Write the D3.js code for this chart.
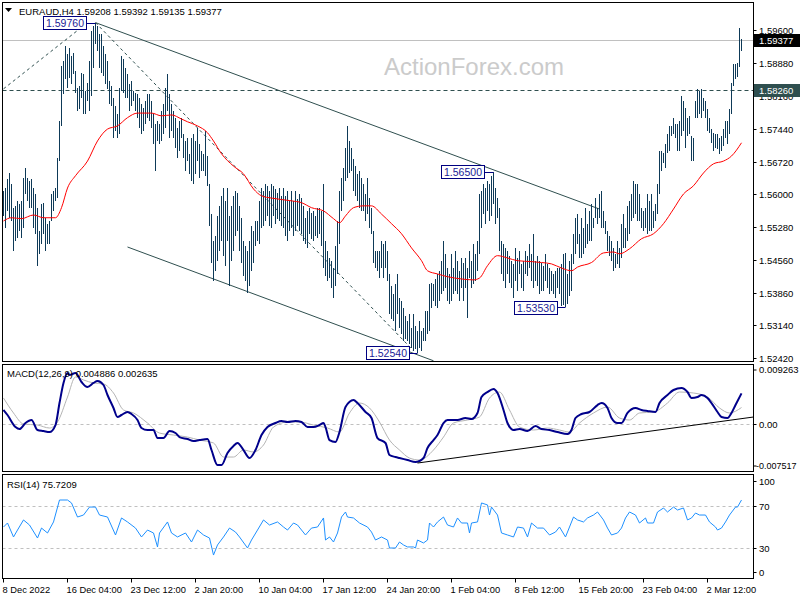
<!DOCTYPE html>
<html><head><meta charset="utf-8">
<script src="https://cdn.jsdelivr.net/npm/d3@7"></script>
<style>body{margin:0;background:#fff} text{font-family:"Liberation Sans",Arial,sans-serif}</style>
</head><body><svg id="c" width="800" height="600"></svg>
<script>
// ---- DATA ----
const symbol = "EURAUD,H4";
const lastOHLC = "1.59208 1.59392 1.59135 1.59377";
const lastPrice = 1.59377;
const levelPrice = 1.5826;
const highs = [
1.5608,1.5614,1.5634,1.5647,1.5623,1.5571,1.5575,1.5586,1.5579,1.5586,
1.5636,1.5658,1.5636,1.5630,1.5634,1.5614,1.5601,1.5571,1.5520,1.5579,
1.5582,1.5549,1.5536,1.5542,1.5601,1.5608,1.5614,1.5680,1.5761,1.5881,
1.5892,1.5925,1.5908,1.5921,1.5903,1.5910,1.5870,1.5833,1.5838,1.5866,
1.5864,1.5827,1.5844,1.5892,1.5958,1.5969,1.5976,1.5969,1.5951,1.5951,
1.5925,1.5908,1.5892,1.5848,1.5838,1.5811,1.5794,1.5776,1.5833,1.5903,
1.5897,1.5877,1.5864,1.5842,1.5848,1.5827,1.5822,1.5820,1.5811,1.5798,
1.5789,1.5805,1.5820,1.5820,1.5805,1.5776,1.5754,1.5761,1.5754,1.5783,
1.5798,1.5833,1.5864,1.5820,1.5798,1.5783,1.5768,1.5746,1.5761,1.5768,
1.5733,1.5717,1.5724,1.5689,1.5724,1.5733,1.5717,1.5746,1.5711,1.5695,
1.5689,1.5739,1.5684,1.5623,1.5557,1.5498,1.5509,1.5553,1.5575,1.5597,
1.5614,1.5586,1.5614,1.5553,1.5575,1.5597,1.5608,1.5603,1.5575,1.5549,
1.5498,1.5487,1.5477,1.5498,1.5531,1.5520,1.5542,1.5542,1.5586,1.5614,
1.5608,1.5623,1.5619,1.5608,1.5623,1.5619,1.5612,1.5603,1.5614,1.5597,
1.5614,1.5597,1.5608,1.5586,1.5608,1.5586,1.5608,1.5590,1.5601,1.5592,
1.5575,1.5549,1.5564,1.5571,1.5560,1.5564,1.5553,1.5571,1.5571,1.5564,
1.5623,1.5498,1.5477,1.5461,1.5455,1.5439,1.5487,1.5542,1.5608,1.5636,
1.5658,1.5702,1.5750,1.5717,1.5702,1.5678,1.5662,1.5645,1.5652,1.5636,
1.5623,1.5601,1.5636,1.5592,1.5571,1.5520,1.5477,1.5477,1.5477,1.5498,
1.5492,1.5498,1.5477,1.5426,1.5400,1.5382,1.5404,1.5426,1.5374,1.5367,
1.5352,1.5334,1.5323,1.5339,1.5308,1.5339,1.5312,1.5301,1.5323,1.5301,
1.5308,1.5345,1.5345,1.5404,1.5407,1.5404,1.5415,1.5426,1.5433,1.5455,
1.5498,1.5470,1.5439,1.5426,1.5470,1.5439,1.5477,1.5455,1.5433,1.5461,
1.5451,1.5461,1.5439,1.5477,1.5455,1.5492,1.5470,1.5498,1.5601,1.5608,
1.5623,1.5614,1.5630,1.5623,1.5641,1.5650,1.5614,1.5592,1.5571,1.5498,
1.5492,1.5483,1.5477,1.5466,1.5455,1.5448,1.5483,1.5461,1.5477,1.5448,
1.5455,1.5477,1.5466,1.5492,1.5470,1.5514,1.5455,1.5466,1.5455,1.5451,
1.5444,1.5470,1.5448,1.5439,1.5433,1.5426,1.5433,1.5439,1.5439,1.5448,
1.5470,1.5472,1.5426,1.5455,1.5470,1.5514,1.5549,1.5557,1.5514,1.5549,
1.5527,1.5571,1.5536,1.5564,1.5579,1.5549,1.5592,1.5571,1.5601,1.5608,
1.5564,1.5542,1.5520,1.5509,1.5498,1.5483,1.5470,1.5498,1.5483,1.5536,
1.5557,1.5527,1.5575,1.5586,1.5601,1.5630,1.5623,1.5623,1.5601,1.5571,
1.5564,1.5571,1.5601,1.5586,1.5601,1.5564,1.5579,1.5623,1.5695,1.5695,
1.5691,1.5711,1.5733,1.5750,1.5750,1.5768,1.5754,1.5754,1.5761,1.5816,
1.5805,1.5789,1.5768,1.5772,1.5728,1.5724,1.5805,1.5831,1.5827,1.5831,
1.5811,1.5805,1.5787,1.5768,1.5743,1.5735,1.5733,1.5733,1.5724,1.5728,
1.5743,1.5761,1.5761,1.5787,1.5844,1.5886,1.5886,1.5888,1.5964,1.59392];
const lows = [
1.5553,1.5527,1.5564,1.5549,1.5542,1.5477,1.5498,1.5505,1.5520,1.5505,
1.5527,1.5601,1.5586,1.5571,1.5571,1.5527,1.5514,1.5444,1.5470,1.5492,
1.5514,1.5477,1.5492,1.5492,1.5542,1.5564,1.5586,1.5592,1.5673,1.5750,
1.5820,1.5853,1.5833,1.5855,1.5842,1.5864,1.5822,1.5783,1.5787,1.5811,
1.5776,1.5776,1.5805,1.5783,1.5816,1.5877,1.5929,1.5914,1.5877,1.5866,
1.5859,1.5842,1.5831,1.5798,1.5794,1.5724,1.5739,1.5724,1.5733,1.5827,
1.5822,1.5811,1.5811,1.5783,1.5794,1.5805,1.5783,1.5768,1.5746,1.5733,
1.5739,1.5754,1.5768,1.5761,1.5746,1.5711,1.5652,1.5717,1.5711,1.5717,
1.5733,1.5746,1.5783,1.5724,1.5739,1.5724,1.5702,1.5680,1.5695,1.5724,
1.5680,1.5652,1.5673,1.5645,1.5630,1.5623,1.5645,1.5673,1.5636,1.5652,
1.5652,1.5641,1.5619,1.5531,1.5451,1.5411,1.5433,1.5455,1.5477,1.5498,
1.5466,1.5444,1.5498,1.5400,1.5455,1.5477,1.5509,1.5520,1.5477,1.5451,
1.5422,1.5411,1.5385,1.5400,1.5433,1.5451,1.5487,1.5498,1.5492,1.5527,
1.5531,1.5542,1.5553,1.5531,1.5527,1.5553,1.5536,1.5547,1.5542,1.5531,
1.5527,1.5509,1.5498,1.5520,1.5527,1.5509,1.5520,1.5531,1.5520,1.5514,
1.5498,1.5492,1.5483,1.5514,1.5503,1.5498,1.5509,1.5505,1.5514,1.5487,
1.5439,1.5422,1.5411,1.5417,1.5396,1.5374,1.5400,1.5426,1.5492,1.5564,
1.5586,1.5630,1.5636,1.5647,1.5652,1.5608,1.5597,1.5586,1.5571,1.5564,
1.5564,1.5542,1.5557,1.5527,1.5514,1.5451,1.5439,1.5433,1.5417,1.5439,
1.5417,1.5439,1.5411,1.5339,1.5328,1.5323,1.5301,1.5339,1.5308,1.5295,
1.5280,1.5284,1.5280,1.5273,1.5264,1.5258,1.5262,1.5254,1.5264,1.5258,
1.5280,1.5280,1.5295,1.5301,1.5352,1.5367,1.5356,1.5352,1.5367,1.5382,
1.5389,1.5396,1.5367,1.5361,1.5367,1.5382,1.5389,1.5382,1.5367,1.5396,
1.5367,1.5396,1.5330,1.5417,1.5396,1.5404,1.5411,1.5433,1.5470,1.5527,
1.5557,1.5536,1.5564,1.5542,1.5553,1.5579,1.5536,1.5549,1.5477,1.5426,
1.5411,1.5396,1.5426,1.5407,1.5396,1.5374,1.5411,1.5389,1.5426,1.5396,
1.5389,1.5426,1.5422,1.5439,1.5411,1.5396,1.5411,1.5400,1.5382,1.5389,
1.5389,1.5411,1.5396,1.5382,1.5389,1.5382,1.5374,1.5396,1.5382,1.5356,
1.5357,1.5353,1.5361,1.5378,1.5389,1.5448,1.5470,1.5492,1.5461,1.5461,
1.5470,1.5483,1.5492,1.5498,1.5498,1.5527,1.5549,1.5536,1.5549,1.5527,
1.5527,1.5514,1.5477,1.5466,1.5455,1.5433,1.5439,1.5448,1.5439,1.5461,
1.5483,1.5483,1.5498,1.5514,1.5542,1.5549,1.5557,1.5542,1.5542,1.5527,
1.5520,1.5527,1.5514,1.5520,1.5520,1.5527,1.5542,1.5557,1.5601,1.5652,
1.5669,1.5658,1.5691,1.5695,1.5728,1.5733,1.5724,1.5695,1.5695,1.5728,
1.5739,1.5702,1.5728,1.5733,1.5673,1.5673,1.5768,1.5768,1.5776,1.5768,
1.5783,1.5768,1.5739,1.5735,1.5713,1.5695,1.5702,1.5700,1.5689,1.5695,
1.5706,1.5724,1.5711,1.5733,1.5776,1.5838,1.5853,1.5857,1.5879,1.59135];

const maIdx = [0,4,9,15,20,26,29,32,36,42,47,52,57,62,67,74,79,84,89,92,97,102,105,109,115,120,125,129,134,144,149,154,160,165,168,171,175,180,184,189,194,199,204,209,212,217,222,229,235,238,242,247,252,257,264,269,274,279,284,287,294,300,305,308,313,319,325,330,335,340,345,350,355,360,364,369];
const maVal = [1.5542,1.5549,1.5547,1.5555,1.5549,1.5549,1.5571,1.5614,1.5641,1.5673,1.5717,1.5743,1.5750,1.5768,1.5778,1.5778,1.5772,1.5774,1.5765,1.5759,1.5750,1.5735,1.5717,1.5689,1.5662,1.5645,1.5612,1.5597,1.5592,1.5586,1.5582,1.5571,1.5564,1.5547,1.5538,1.5553,1.5571,1.5575,1.5575,1.5557,1.5536,1.5514,1.5483,1.5455,1.5433,1.5426,1.5420,1.5415,1.5413,1.5417,1.5444,1.5466,1.5461,1.5455,1.5453,1.5451,1.5448,1.5439,1.5433,1.5441,1.5451,1.5472,1.5474,1.5470,1.5481,1.5503,1.5514,1.5536,1.5568,1.5601,1.5619,1.5647,1.5667,1.5673,1.5684,1.5713];

const macdIdx = [0,2,6,8,11,14,17,20,23,26,28,30,32,33,36,39,42,45,47,50,52,55,57,59,62,64,67,69,72,75,77,80,83,86,88,92,95,98,102,104,107,109,112,115,117,120,123,126,129,132,136,139,142,146,149,152,155,158,160,161,163,166,168,171,175,177,181,184,187,191,193,196,198,202,206,210,212,215,217,220,222,227,231,234,237,239,242,245,247,250,252,255,258,262,266,269,273,277,282,284,286,289,293,297,299,302,304,307,309,312,316,319,322,326,328,332,335,339,342,344,347,349,352,354,357,359,362,364,366,369];
const macdVal = [0.00224,0.00144,-0.00048,-0.0008,0.00016,0.00064,-0.00096,-0.00112,-0.00128,-0.00016,0.00335,0.00655,0.00814,0.00783,0.00814,0.00671,0.00591,0.00655,0.00687,0.00623,0.00463,0.00256,0.00112,0.00144,0.00192,0.0016,0.00064,-0.00064,-0.00096,-0.00096,-0.00224,-0.00224,-0.00112,-0.00144,-0.00208,-0.0024,-0.00271,-0.00256,-0.0024,-0.00415,-0.00655,-0.00655,-0.00463,-0.00351,-0.00303,-0.00415,-0.00543,-0.00415,-0.00176,-0.00048,0.00016,0.00048,0.00032,0.00048,0.00032,-0.00048,-0.00048,-0.00016,0.00016,-0.00048,-0.00256,-0.00287,-0.00128,0.00271,0.00383,0.00335,0.00192,0.00096,-0.00224,-0.00303,-0.00495,-0.00527,-0.00543,-0.00575,-0.00607,-0.00543,-0.00383,-0.00256,-0.00176,0.00016,0.00064,0.00064,0.00096,0.0008,0.00176,0.00431,0.00511,0.00559,0.00495,0.00224,0.00016,-0.00096,-0.0008,-0.00112,-0.00032,-0.0008,-0.00096,-0.00128,-0.0016,-0.00096,0.00096,0.0016,0.00192,0.00303,0.00335,0.00256,0.00096,0.00016,0.00016,0.00176,0.00256,0.00224,0.00208,0.00192,0.00335,0.00463,0.00543,0.00575,0.00511,0.00415,0.00431,0.00463,0.00415,0.00335,0.00192,0.00112,0.00096,0.00176,0.00303,0.004886];
const sigIdx = [0,5,10,17,23,27,32,36,40,45,50,55,60,65,72,78,85,92,98,105,110,115,120,125,130,135,142,148,155,162,168,173,178,183,188,193,198,203,208,215,220,225,232,238,243,248,253,258,265,272,278,283,288,295,302,308,313,318,325,332,338,345,352,358,363,369];
const sigVal = [0.00415,0.00176,0,-0.00016,-0.00064,0.00032,0.00431,0.00751,0.00703,0.00655,0.00639,0.00495,0.00224,0.00176,0.00016,-0.00144,-0.00176,-0.00208,-0.00256,-0.00303,-0.00527,-0.00527,-0.00415,-0.00447,-0.00335,-0.00048,0.00032,0.00032,-0.00016,-0.00064,-0.00128,0.00176,0.00335,0.00256,0.00032,-0.00256,-0.00415,-0.00543,-0.00575,-0.00415,-0.00208,0.00016,0.00064,0.00112,0.00415,0.00511,0.00224,-0.00048,-0.00096,-0.00064,-0.00096,-0.00128,0.00016,0.00176,0.00271,0.00096,0.00064,0.00176,0.00192,0.00335,0.00511,0.00495,0.00431,0.00256,0.00176,0.002635];
const macdLabel = "MACD(12,26,9) 0.004886 0.002635";

const rsiIdx = [0,2,5,7,10,13,17,19,22,25,28,32,34,37,40,43,46,48,52,56,59,62,66,69,72,75,77,78,82,84,87,91,94,97,100,103,105,107,110,113,116,118,122,124,127,130,133,137,140,142,145,147,151,154,157,160,161,163,165,167,169,171,172,175,178,182,184,186,189,192,193,196,198,200,202,205,206,207,210,212,213,215,217,220,222,225,227,229,232,233,234,237,239,242,243,244,247,249,252,255,257,260,262,264,267,270,273,276,278,281,282,285,287,290,292,295,297,300,302,304,307,309,311,313,316,318,321,322,325,327,330,332,335,337,340,342,344,346,348,351,353,356,357,359,361,363,366,367,369];
const rsiVal = [50.0,53.8,40.5,47.1,56.7,51.9,39.5,49.0,44.3,54.8,75.7,75.7,72.9,59.5,61.4,69.0,69.0,61.4,59.5,42.4,58.6,54.8,49.0,40.5,47.1,44.3,31.0,44.3,54.8,44.3,40.5,44.3,35.7,47.1,42.4,39.5,23.3,32.9,40.5,49.0,45.2,40.5,30.0,37.6,47.1,56.7,51.9,54.8,50.0,47.1,53.8,51.9,42.4,49.0,50.0,58.6,37.6,40.5,35.7,44.3,59.5,64.3,59.5,58.6,53.8,50.0,45.2,37.6,40.5,37.6,30.0,30.0,35.7,32.9,31.0,31.0,30.0,37.6,34.8,37.6,53.8,50.0,54.8,59.5,51.9,50.0,58.6,53.8,53.8,44.3,53.8,54.8,72.9,71.0,61.4,69.0,61.4,44.3,42.4,40.5,50.0,49.0,40.5,53.8,49.0,49.0,42.4,45.2,50.0,40.5,45.2,59.5,56.7,54.8,58.6,61.4,64.3,56.7,49.0,42.4,44.3,49.0,58.6,64.3,61.4,53.8,58.6,53.8,53.8,64.3,68.1,64.3,69.0,66.2,68.1,56.7,58.6,63.3,61.4,61.4,54.8,50.0,47.1,49.0,54.8,61.4,69.0,69.0,75.72];
const rsiLabel = "RSI(14) 75.7209";

const priceTicks = [1.5960,1.5888,1.5816,1.5744,1.5672,1.5600,1.5528,1.5456,1.5384,1.5314,1.5242];
const priceTickLabels = ["1.59600","1.58880","1.58160","1.57440","1.56720","1.56000","1.55280","1.54560","1.53860","1.53140","1.52420"];
const macdTicks = [0.009263,0,-0.007517];
const macdTickLabels = ["0.009263","0.00","-0.007517"];
const rsiTicks = [100,70,30,0];
const rsiLevels = [70,30];
const timeIdx = [0,32,64,96,128,160,192,224,256,288,320,352];
const timeLabels = ["8 Dec 2022","16 Dec 04:00","23 Dec 12:00","2 Jan 20:00","10 Jan 04:00","17 Jan 12:00","24 Jan 20:00","1 Feb 04:00","8 Feb 12:00","15 Feb 20:00","23 Feb 04:00","2 Mar 12:00"];

const pivotIdx = [46,245,281,207];
const pivotPrice = [1.5976,1.5650,1.5353,1.5254];
const pivotText = ["1.59760","1.56500","1.53530","1.52540"];

const trendSolid = [[[46,1.5976],[298,1.5568]], [[62,1.5485],[215,1.5236]]];
const trendDashed = [[[0,1.5831],[42,1.5976]], [[46,1.5976],[205,1.5258]]];
const macdTrend = [[207,-0.00623],[375,0.00112]];

// ---- CHART ----
const svg = d3.select("#c");
const L = 2.5, R = 753.5;
const mainT = 2.5, mainB = 361.5, macT = 364.5, macB = 471.5, rsiT = 474.5, rsiB = 578.5;
const x = d3.scaleLinear().domain([0,369]).range([3.5,741.5]);
const y = d3.scaleLinear().domain([1.52355,1.60211]).range([361,2]);
const ym = d3.scaleLinear().domain([-0.0075,0.00974]).range([471,363]);
const yr = d3.scaleLinear().domain([0,100]).range([579.5,474.5]);
const BAR = "#0e3a58", DARK = "#2f4f4f", NAVY = "#000080";

const defs = svg.append("defs");
[["cm",mainT,mainB],["cd",macT,macB],["cr",rsiT,rsiB]].forEach(([id,t,b])=>{
  defs.append("clipPath").attr("id",id).append("rect").attr("x",L).attr("y",t).attr("width",R-L).attr("height",b-t);
});

const gm = svg.append("g").attr("clip-path","url(#cm)");
gm.append("text").attr("x",474).attr("y",75).attr("text-anchor","middle")
  .attr("font-size",24).attr("fill","#cbcbcb").text("ActionForex.com");
gm.append("line").attr("x1",L).attr("x2",R).attr("y1",Math.round(y(lastPrice))+0.5).attr("y2",Math.round(y(lastPrice))+0.5)
  .attr("stroke","#c0c0c0");
gm.append("line").attr("x1",L).attr("x2",R).attr("y1",Math.round(y(levelPrice))-0.5).attr("y2",Math.round(y(levelPrice))-0.5)
  .attr("stroke",DARK).attr("stroke-dasharray","4,3");
const tl = d3.line().x(d=>x(d[0])).y(d=>y(d[1]));
trendSolid.forEach(t=>gm.append("path").attr("d",tl(t)).attr("stroke",DARK).attr("fill","none"));
trendDashed.forEach(t=>gm.append("path").attr("d",tl(t)).attr("stroke",DARK).attr("fill","none").attr("stroke-dasharray","3,3"));
gm.append("g").selectAll("line").data(highs).join("line")
  .attr("x1",(d,i)=>x(i)).attr("x2",(d,i)=>x(i))
  .attr("y1",d=>y(d)).attr("y2",(d,i)=>y(lows[i]))
  .attr("stroke",BAR).attr("stroke-width",1).attr("shape-rendering","crispEdges");
gm.append("path").datum(maIdx.map((d,i)=>[d,maVal[i]]))
  .attr("d",d3.line().x(d=>x(d[0])).y(d=>y(d[1])).curve(d3.curveMonotoneX))
  .attr("fill","none").attr("stroke","#ff0000").attr("stroke-width",1);
pivotIdx.forEach((pi,k)=>{
  const bx = x(pi), by = y(pivotPrice[k]);
  const w = 43, h = 13, gap = 9;
  const rx = Math.round(bx - gap - w) + 0.5, ry = Math.round(by - h/2) + 0.5;
  gm.append("line").attr("x1",rx+w).attr("x2",bx).attr("y1",Math.round(by)+0.5).attr("y2",Math.round(by)+0.5).attr("stroke",NAVY);
  gm.append("rect").attr("x",rx).attr("y",ry).attr("width",w).attr("height",h).attr("fill","#fff").attr("stroke",NAVY);
  gm.append("text").attr("x",rx+w/2).attr("y",ry+h/2).attr("dy","0.36em").attr("text-anchor","middle")
    .attr("font-size",10.5).attr("fill","#1c1c96").text(pivotText[k]);
});

// MACD panel
const gd = svg.append("g").attr("clip-path","url(#cd)");
gd.append("line").attr("x1",L).attr("x2",R).attr("y1",Math.round(ym(0))+0.5).attr("y2",Math.round(ym(0))+0.5)
  .attr("stroke","#c0c0c0").attr("stroke-dasharray","3,3");
gd.append("path").datum(sigIdx.map((d,i)=>[d,sigVal[i]]))
  .attr("d",d3.line().x(d=>x(d[0])).y(d=>ym(d[1])).curve(d3.curveMonotoneX))
  .attr("fill","none").attr("stroke","#b4b4b4").attr("stroke-width",1);
gd.append("path").datum(macdIdx.map((d,i)=>[d,macdVal[i]]))
  .attr("d",d3.line().x(d=>x(d[0])).y(d=>ym(d[1])).curve(d3.curveMonotoneX))
  .attr("fill","none").attr("stroke","#00008b").attr("stroke-width",2);
gd.append("path").attr("d",d3.line().x(d=>x(d[0])).y(d=>ym(d[1]))(macdTrend)).attr("stroke","#000").attr("fill","none");

// RSI panel
const gr = svg.append("g").attr("clip-path","url(#cr)");
rsiLevels.forEach(v=>gr.append("line").attr("x1",L).attr("x2",R).attr("y1",Math.round(yr(v))+0.5).attr("y2",Math.round(yr(v))+0.5)
  .attr("stroke","#c0c0c0").attr("stroke-dasharray","3,3"));
gr.append("path").datum(rsiIdx.map((d,i)=>[d,rsiVal[i]]))
  .attr("d",d3.line().x(d=>x(d[0])).y(d=>yr(d[1])))
  .attr("fill","none").attr("stroke","#1e90ff").attr("stroke-width",1);

// frames
[[mainT,mainB],[macT,macB],[rsiT,rsiB]].forEach(([t,b])=>{
  svg.append("rect").attr("x",L).attr("y",t).attr("width",R-L).attr("height",b-t).attr("fill","none").attr("stroke","#000");
});

// right axes
const ax = svg.append("g").attr("font-size",9.5).attr("fill","#000");
priceTicks.forEach((v,i)=>{
  const yy = Math.round(y(v))+0.5;
  ax.append("line").attr("x1",R).attr("x2",R+3).attr("y1",yy).attr("y2",yy).attr("stroke","#000");
  ax.append("text").attr("x",759).attr("y",yy).attr("dy","0.35em").text(priceTickLabels[i]);
});
const macdLabelY = [370,424,466];
macdTicks.forEach((v,i)=>{
  const yy = (i===1? Math.round(ym(v))+0.5 : macdLabelY[i]);
  ax.append("line").attr("x1",R).attr("x2",R+3).attr("y1",yy).attr("y2",yy).attr("stroke","#000");
  ax.append("text").attr("x",i===2?756:759).attr("y",yy).attr("dy","0.35em")
    .attr("font-size",i===2?9:9.5).text(macdTickLabels[i]);
});
const rsiOff = [6.5,0,0,-7.5];
rsiTicks.forEach((v,i)=>{
  const yy = Math.round(yr(v)+rsiOff[i])+0.5;
  ax.append("line").attr("x1",R).attr("x2",R+3).attr("y1",yy).attr("y2",yy).attr("stroke","#000");
  ax.append("text").attr("x",759).attr("y",yy).attr("dy","0.35em").text(v);
});
[[lastPrice,"#000",lastPrice.toFixed(5)],[levelPrice,DARK,levelPrice.toFixed(5)]].forEach(([v,c,t],k)=>{
  const yy = Math.round(y(v)) - (k===1?1:0);
  ax.append("rect").attr("x",754).attr("y",yy-6).attr("width",46).attr("height",13).attr("fill",c);
  ax.append("text").attr("x",759).attr("y",yy+0.5).attr("dy","0.35em").attr("fill","#fff").text(t);
});

// time axis
timeIdx.forEach((ti,k)=>{
  const xx = Math.round(x(ti))-0.5;
  ax.append("line").attr("x1",xx).attr("x2",xx).attr("y1",rsiB).attr("y2",rsiB+4).attr("stroke","#000");
  ax.append("text").attr("x",xx-1).attr("y",593).attr("font-size",9.3).text(timeLabels[k]);
});

// header & indicator labels
svg.append("path").attr("d","M5,8 L12,8 L8.5,12 Z").attr("fill","#000");
svg.append("text").attr("x",19).attr("y",15).attr("font-size",9.5).text(symbol+" "+lastOHLC);
svg.append("text").attr("x",7).attr("y",377).attr("font-size",9.5).text(macdLabel);
svg.append("text").attr("x",7).attr("y",488).attr("font-size",9.5).text(rsiLabel);
</script></body></html>
